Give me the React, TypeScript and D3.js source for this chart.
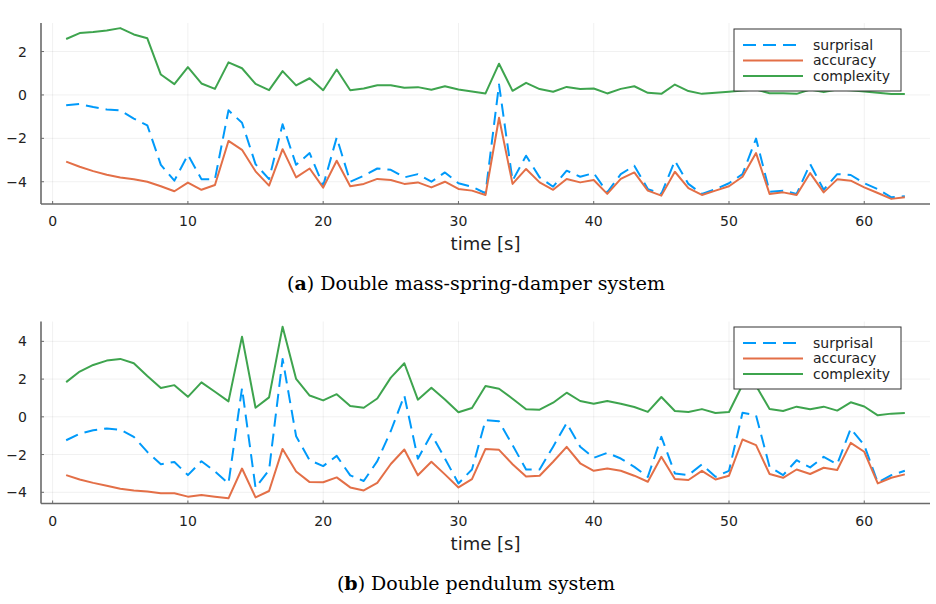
import React from 'react';
import * as d3 from 'd3';

// Sample index (seconds) shared by both experiments
const time = Array.from({ length: 63 }, (_, i) => i + 1);
const xTicks = [0, 10, 20, 30, 40, 50, 60];

const seriesNames = ['surprisal', 'accuracy', 'complexity'];
const seriesColors = ['#009AFA', '#E36F47', '#3EA44E'];
const seriesDash = ['13,7', undefined, undefined];

// (a) Double mass-spring-damper system
const msdSurprisal = [
  -0.48, -0.42, -0.56, -0.67, -0.71, -1.09, -1.40, -3.22, -3.95, -2.76,
  -3.88, -3.88, -0.71, -1.28, -3.19, -3.88, -1.35, -3.22, -2.68, -4.18,
  -1.96, -4.0, -3.72, -3.39, -3.45, -3.80, -3.65, -4.0, -3.57, -4.07,
  -4.23, -4.53, 0.48, -3.95, -2.80, -3.8, -4.23, -3.49, -3.77, -3.6,
  -4.49, -3.65, -3.26, -4.34, -4.56, -3.03, -4.1, -4.56, -4.34, -4.07,
  -3.65, -2.01, -4.46, -4.41, -4.56, -3.18, -4.37, -3.65, -3.69, -4.07,
  -4.34, -4.72, -4.67,
];
const msdAccuracy = [
  -3.07, -3.31, -3.51, -3.68, -3.80, -3.89, -4.0, -4.21, -4.44, -4.04,
  -4.37, -4.15, -2.12, -2.53, -3.52, -4.18, -2.50, -3.80, -3.39, -4.27,
  -3.03, -4.21, -4.1, -3.87, -3.92, -4.1, -4.03, -4.26, -4.0, -4.33,
  -4.41, -4.61, -1.05, -4.1, -3.41, -4.03, -4.37, -3.87, -4.03, -3.92,
  -4.56, -3.87, -3.57, -4.41, -4.64, -3.54, -4.29, -4.61, -4.41, -4.21,
  -3.77, -2.68, -4.56, -4.49, -4.61, -3.6, -4.49, -3.89, -3.95, -4.26,
  -4.52, -4.79, -4.72,
];
const msdComplexity = [
  2.58, 2.85, 2.9, 2.97, 3.08, 2.79, 2.61, 0.94, 0.5, 1.28,
  0.53, 0.28, 1.5, 1.23, 0.51, 0.22, 1.1, 0.44, 0.77, 0.22,
  1.17, 0.22, 0.3, 0.45, 0.45, 0.33, 0.36, 0.24, 0.4, 0.25,
  0.16, 0.07, 1.44, 0.19, 0.56, 0.27, 0.15, 0.37, 0.27, 0.3,
  0.07, 0.28, 0.4, 0.1, 0.05, 0.48, 0.18, 0.05, 0.1, 0.15,
  0.2, 0.25, 0.08, 0.08, 0.05, 0.25, 0.13, 0.25, 0.22, 0.16,
  0.1, 0.04, 0.04,
];
const msdYTicks = [-4, -2, 0, 2];

// (b) Double pendulum system
const pendSurprisal = [
  -1.24, -0.89, -0.71, -0.62, -0.68, -1.06, -1.86, -2.51, -2.39, -3.09,
  -2.35, -2.9, -3.53, 1.52, -3.76, -2.82, 3.07, -1.03, -2.3, -2.61,
  -2.07, -3.1, -3.4, -2.35, -0.75, 1.13, -2.22, -0.92, -2.21, -3.53,
  -2.79, -0.18, -0.24, -1.5, -2.79, -2.79, -1.58, -0.33, -1.58, -2.17,
  -1.91, -2.21, -2.65, -3.18, -1.06, -3.0, -3.09, -2.52, -3.18, -2.86,
  0.22, 0.08, -2.65, -3.09, -2.3, -2.68, -2.12, -2.51, -0.62, -1.5,
  -3.49, -3.09, -2.86,
];
const pendAccuracy = [
  -3.09, -3.32, -3.5, -3.65, -3.81, -3.91, -3.96, -4.05, -4.05, -4.23,
  -4.14, -4.23, -4.32, -2.74, -4.27, -3.93, -1.7, -2.9, -3.46, -3.47,
  -3.21, -3.74, -3.9, -3.5, -2.5, -1.73, -3.1, -2.38, -3.05, -3.74,
  -3.3, -1.7, -1.75, -2.51, -3.16, -3.12, -2.38, -1.59, -2.46, -2.86,
  -2.74, -2.86, -3.12, -3.44, -2.12, -3.3, -3.35, -2.86, -3.32, -3.12,
  -1.2, -1.5, -3.03, -3.23, -2.79, -3.03, -2.7, -2.82, -1.38, -1.85,
  -3.53, -3.23, -3.05,
];
const pendComplexity = [
  1.84, 2.4, 2.75, 2.98, 3.07, 2.84, 2.17, 1.53, 1.68, 1.06,
  1.83, 1.33, 0.82, 4.25, 0.48, 1.03, 4.78, 2.01, 1.13, 0.87,
  1.2, 0.57, 0.48, 0.97, 2.08, 2.84, 0.91, 1.54, 0.92, 0.24,
  0.47, 1.63, 1.49, 0.96, 0.4, 0.38, 0.75, 1.28, 0.84, 0.69,
  0.84, 0.69, 0.52, 0.26, 1.05, 0.31, 0.26, 0.41, 0.2, 0.26,
  1.7, 1.65, 0.41, 0.31, 0.54, 0.4, 0.54, 0.33, 0.77, 0.55,
  0.08, 0.17, 0.2,
];
const pendYTicks = [-4, -2, 0, 2, 4];

const SANS = '"DejaVu Sans", sans-serif';
const SERIF = '"DejaVu Serif", "Liberation Serif", serif';

// Extent padded by 3% on each side
function padded(values: number[]): [number, number] {
  const [lo, hi] = d3.extent(values) as [number, number];
  const pad = (hi - lo) * 0.03;
  return [lo - pad, hi + pad];
}

type PanelProps = {
  top: number;
  bottom: number;
  series: number[][];
  yTicks: number[];
  legendTop: number;
  tag: string;
  caption: string;
};

function Panel({ top, bottom, series, yTicks, legendTop, tag, caption }: PanelProps) {
  const left = 41;
  const right = 930;
  const x = d3.scaleLinear().domain(padded(time)).range([left, right]);
  const y = d3.scaleLinear().domain(padded(series.flat())).range([bottom, top]);
  const line = d3
    .line<number>()
    .x((_, i) => x(time[i]))
    .y((d) => y(d));

  const legendLeft = 734;
  const legendW = 167;
  const legendH = 62;

  return (
    <g>
      {/* grid */}
      {xTicks.map((t) => (
        <line key={`gx${t}`} x1={x(t)} x2={x(t)} y1={top} y2={bottom} stroke="#000" strokeOpacity={0.08} strokeWidth={0.8} />
      ))}
      {yTicks.map((t) => (
        <line key={`gy${t}`} x1={left} x2={right} y1={y(t)} y2={y(t)} stroke="#000" strokeOpacity={0.08} strokeWidth={0.8} />
      ))}

      {/* series */}
      {series.map((vals, k) => (
        <path
          key={seriesNames[k]}
          d={line(vals) ?? ''}
          fill="none"
          stroke={seriesColors[k]}
          strokeWidth={2}
          strokeDasharray={seriesDash[k]}
          strokeLinejoin="round"
        />
      ))}

      {/* axes */}
      <line x1={left} x2={left} y1={top} y2={bottom} stroke="#6a6a6a" strokeWidth={1.6} />
      <line x1={left} x2={right} y1={bottom} y2={bottom} stroke="#6a6a6a" strokeWidth={1.6} />
      {xTicks.map((t) => (
        <g key={`tx${t}`}>
          <line x1={x(t)} x2={x(t)} y1={bottom} y2={bottom - 3} stroke="#6a6a6a" strokeWidth={1} />
          <text x={x(t)} y={bottom + 22} textAnchor="middle" fontFamily={SANS} fontSize={14} fill="#222">
            {t}
          </text>
        </g>
      ))}
      {yTicks.map((t) => (
        <g key={`ty${t}`}>
          <line x1={left} x2={left + 3} y1={y(t)} y2={y(t)} stroke="#6a6a6a" strokeWidth={1} />
          <text x={27} y={y(t)} dy="0.36em" textAnchor="end" fontFamily={SANS} fontSize={14} fill="#222">
            {t < 0 ? `\u2212${Math.abs(t)}` : t}
          </text>
        </g>
      ))}
      <text x={(left + right) / 2} y={bottom + 46} textAnchor="middle" fontFamily={SANS} fontSize={18} fill="#222">
        time [s]
      </text>

      {/* legend */}
      <rect x={legendLeft} y={legendTop} width={legendW} height={legendH} fill="#fff" stroke="#333" strokeWidth={1} />
      {seriesNames.map((name, k) => {
        const ry = legendTop + 16 + k * 15.5;
        return (
          <g key={`lg${name}`}>
            <line x1={legendLeft + 9} x2={legendLeft + 69} y1={ry} y2={ry} stroke={seriesColors[k]} strokeWidth={2} strokeDasharray={seriesDash[k]} />
            <text x={legendLeft + 79} y={ry} dy="0.33em" fontFamily={SANS} fontSize={14} fill="#222">
              {name}
            </text>
          </g>
        );
      })}

      {/* caption */}
      <text x={476} y={bottom + 86} textAnchor="middle" fontFamily={SERIF} fontSize={19} fill="#000">
        (<tspan fontWeight="bold">{tag}</tspan>) {caption}
      </text>
    </g>
  );
}

export default function App() {
  return (
    <svg width={936} height={604} style={{ position: 'absolute', left: 0, top: 0, background: '#fff' }}>
      <rect width={936} height={604} fill="#fff" />
      <Panel
        top={23}
        bottom={204}
        series={[msdSurprisal, msdAccuracy, msdComplexity]}
        yTicks={msdYTicks}
        legendTop={29}
        tag="a"
        caption="Double mass-spring-damper system"
      />
      <Panel
        top={321.5}
        bottom={503.5}
        series={[pendSurprisal, pendAccuracy, pendComplexity]}
        yTicks={pendYTicks}
        legendTop={327}
        tag="b"
        caption="Double pendulum system"
      />
    </svg>
  );
}
